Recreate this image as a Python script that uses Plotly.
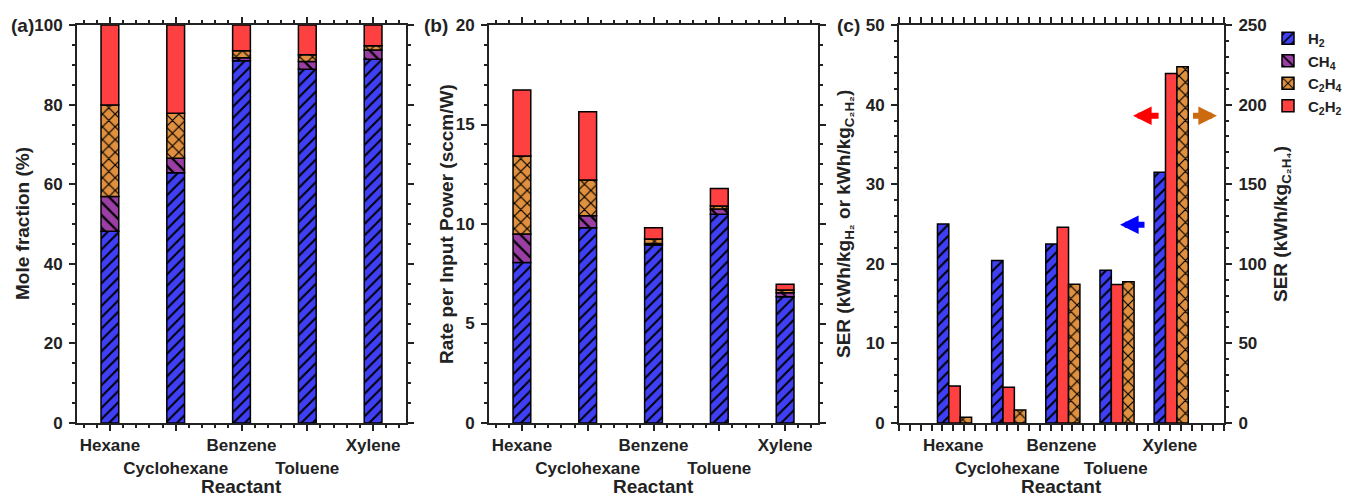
import numpy as np
import plotly.graph_objects as go

# ---------------- data ----------------
categories = ["Hexane", "Cyclohexane", "Benzene", "Toluene", "Xylene"]
species = ["H2", "CH4", "C2H4", "C2H2"]

# (a) mole fraction (%)
mf_H2 = [48.2, 62.9, 91.0, 88.9, 91.4]
mf_CH4 = [8.7, 3.6, 0.8, 1.9, 2.3]
mf_C2H4 = [23.0, 11.3, 1.7, 1.7, 1.1]
mf_C2H2 = [20.1, 22.2, 6.5, 7.5, 5.2]

# (b) rate per input power (sccm/W)
rate_H2 = [8.06, 9.81, 8.94, 10.49, 6.35]
rate_CH4 = [1.44, 0.61, 0.08, 0.26, 0.20]
rate_C2H4 = [3.92, 1.79, 0.23, 0.15, 0.13]
rate_C2H2 = [3.31, 3.43, 0.56, 0.89, 0.29]

# (c) SER
ser_H2 = [25.0, 20.4, 22.5, 19.2, 31.5]      # left axis
ser_C2H2 = [4.65, 4.5, 24.6, 17.4, 43.9]     # left axis
ser_C2H4 = [3.6, 8.2, 87.1, 88.8, 223.8]     # right axis

tick_rows = ["", "<br>", "", "<br>", ""]

# ---------------- styles ----------------
FONT = "Liberation Sans, Arial, sans-serif"
AX = "#222222"
COL = {"H2": "#3F3FF5", "CH4": "#9B3FA5", "C2H4": "#E0903E", "C2H2": "#FF4040"}
PAT = {"H2": "/", "CH4": "\\", "C2H4": "x", "C2H2": ""}
PSIZE = {"H2": 8, "CH4": 9, "C2H4": 9, "C2H2": 8}
NAMES = {"H2": "H<sub>2</sub>", "CH4": "CH<sub>4</sub>",
         "C2H4": "C<sub>2</sub>H<sub>4</sub>", "C2H2": "C<sub>2</sub>H<sub>2</sub>"}

pos = np.arange(1, len(categories) + 1)
ticktext = [r + c for r, c in zip(tick_rows, categories)]


def marker(sp):
    m = dict(color=COL[sp], line=dict(color="black", width=1.5))
    if PAT[sp]:
        m["pattern"] = dict(shape=PAT[sp], fgcolor="black", bgcolor=COL[sp],
                            size=PSIZE[sp], solidity=0.25, fillmode="replace")
    return m


fig = go.Figure()

# stacked panels (a) and (b)
panels = [
    ("x", "y", [mf_H2, mf_CH4, mf_C2H4, mf_C2H2], True),
    ("x2", "y2", [rate_H2, rate_CH4, rate_C2H4, rate_C2H2], False),
]
for xa, ya, series, show in panels:
    base = np.zeros(len(categories))
    for sp, vals in zip(species, series):
        vals = np.array(vals)
        fig.add_trace(go.Bar(x=pos, y=vals, base=base, width=0.27,
                             marker=marker(sp), name=NAMES[sp],
                             legendgroup=sp, showlegend=show,
                             xaxis=xa, yaxis=ya))
        base = base + vals

# panel (c) grouped bars on twin axes
for sp, vals, ya, off in [("H2", ser_H2, "y3", -0.29),
                          ("C2H2", ser_C2H2, "y3", -0.08),
                          ("C2H4", ser_C2H4, "y4", 0.13)]:
    fig.add_trace(go.Bar(x=pos, y=vals, width=0.21, offset=off,
                         marker=marker(sp), name=NAMES[sp], legendgroup=sp,
                         showlegend=False, xaxis="x3", yaxis=ya))

W, H = 1349, 499


def px_x(p):
    return p / W


def px_y(p):
    return 1 - p / H


common = dict(showline=True, linecolor=AX, linewidth=2, ticks="outside",
              ticklen=6, tickwidth=2, tickcolor=AX, showgrid=False, zeroline=False,
              automargin=False,
              tickfont=dict(family=FONT, size=17, weight="bold", color=AX))


def xaxis(dom, rng, anchor):
    return dict(common, domain=dom, range=rng, tickmode="array", tickvals=pos,
                ticktext=ticktext, mirror="allticks", tickangle=0, anchor=anchor,
                minor=dict(ticks="outside", ticklen=3, tickwidth=1.5,
                           tickcolor=AX, dtick=0.2, tick0=0, showgrid=False))


def yaxis(rng, dt, mdt, **kw):
    d = dict(common, domain=[px_y(423), px_y(25)], range=rng, dtick=dt, tick0=0,
             ticklabelstandoff=3,
             minor=dict(ticks="outside", ticklen=3, tickwidth=1.5, tickcolor=AX,
                        dtick=mdt, tick0=0, showgrid=False))
    d.update(kw)
    return d


fig.update_layout(
    width=W, height=H, margin=dict(l=0, r=0, t=0, b=0, autoexpand=False),
    paper_bgcolor="white", plot_bgcolor="white", barmode="overlay",
    font=dict(family=FONT, color=AX),
    xaxis=xaxis([px_x(77), px_x(406)], [0.5, 5.5], "y"),
    yaxis=yaxis([0, 100], 20, 5, mirror="allticks", anchor="x"),
    xaxis2=xaxis([px_x(489), px_x(818)], [0.5, 5.5], "y2"),
    yaxis2=yaxis([0, 20], 5, 1, mirror="allticks", anchor="x2"),
    xaxis3=xaxis([px_x(899), px_x(1224)], [0, 6], "y3"),
    yaxis3=yaxis([0, 50], 10, 2, anchor="x3"),
    yaxis4=yaxis([0, 250], 50, 10, anchor="x3", overlaying="y3", side="right"),
    legend=dict(x=px_x(1268), y=px_y(22), xanchor="left", yanchor="top",
                bgcolor="rgba(0,0,0,0)", tracegroupgap=0,
                font=dict(family=FONT, size=15, weight="bold", color=AX)),
)

ann = []
tfont = dict(family=FONT, size=19, weight="bold", color=AX)


def label(xc, yc, text, angle=0, yanchor="middle"):
    return dict(x=px_x(xc), y=px_y(yc), xref="paper", yref="paper",
                xanchor="center", yanchor=yanchor, text=text, textangle=angle,
                showarrow=False, font=tfont)


# axis titles
for xc in [241.5, 653.5, 1061.5]:
    ann.append(label(xc, 499, "Reactant", yanchor="bottom"))
ann.append(label(22, 224, "Mole fraction (%)", -90))
ann.append(label(446, 224, "Rate per Input Power (sccm/W)", -90))
ann.append(label(845, 224, "SER (kWh/kg<sub>H₂</sub> or kWh/kg<sub>C₂H₂</sub>)", -90))
ann.append(label(1282, 224, "SER (kWh/kg<sub>C₂H₄</sub>)", -90))
# panel letters
for t, xc in [("(a)", 22), ("(b)", 436), ("(c)", 848)]:
    ann.append(label(xc, 25, t))
# arrows
for tip, tail, yv, col in [(4.32, 4.82, 38.6, "#FF0000"),
                           (5.87, 5.40, 38.6, "#CC6A10"),
                           (4.08, 4.56, 24.9, "#0000FF")]:
    ann.append(dict(x=tip, y=yv, ax=tail, ay=yv, xref="x3", yref="y3",
                    axref="x3", ayref="y3", text="", showarrow=True,
                    arrowhead=2, arrowwidth=6, arrowsize=0.62, arrowcolor=col,
                    standoff=0, startstandoff=0))
fig.update_layout(annotations=ann)

fig.write_html("out.html")
